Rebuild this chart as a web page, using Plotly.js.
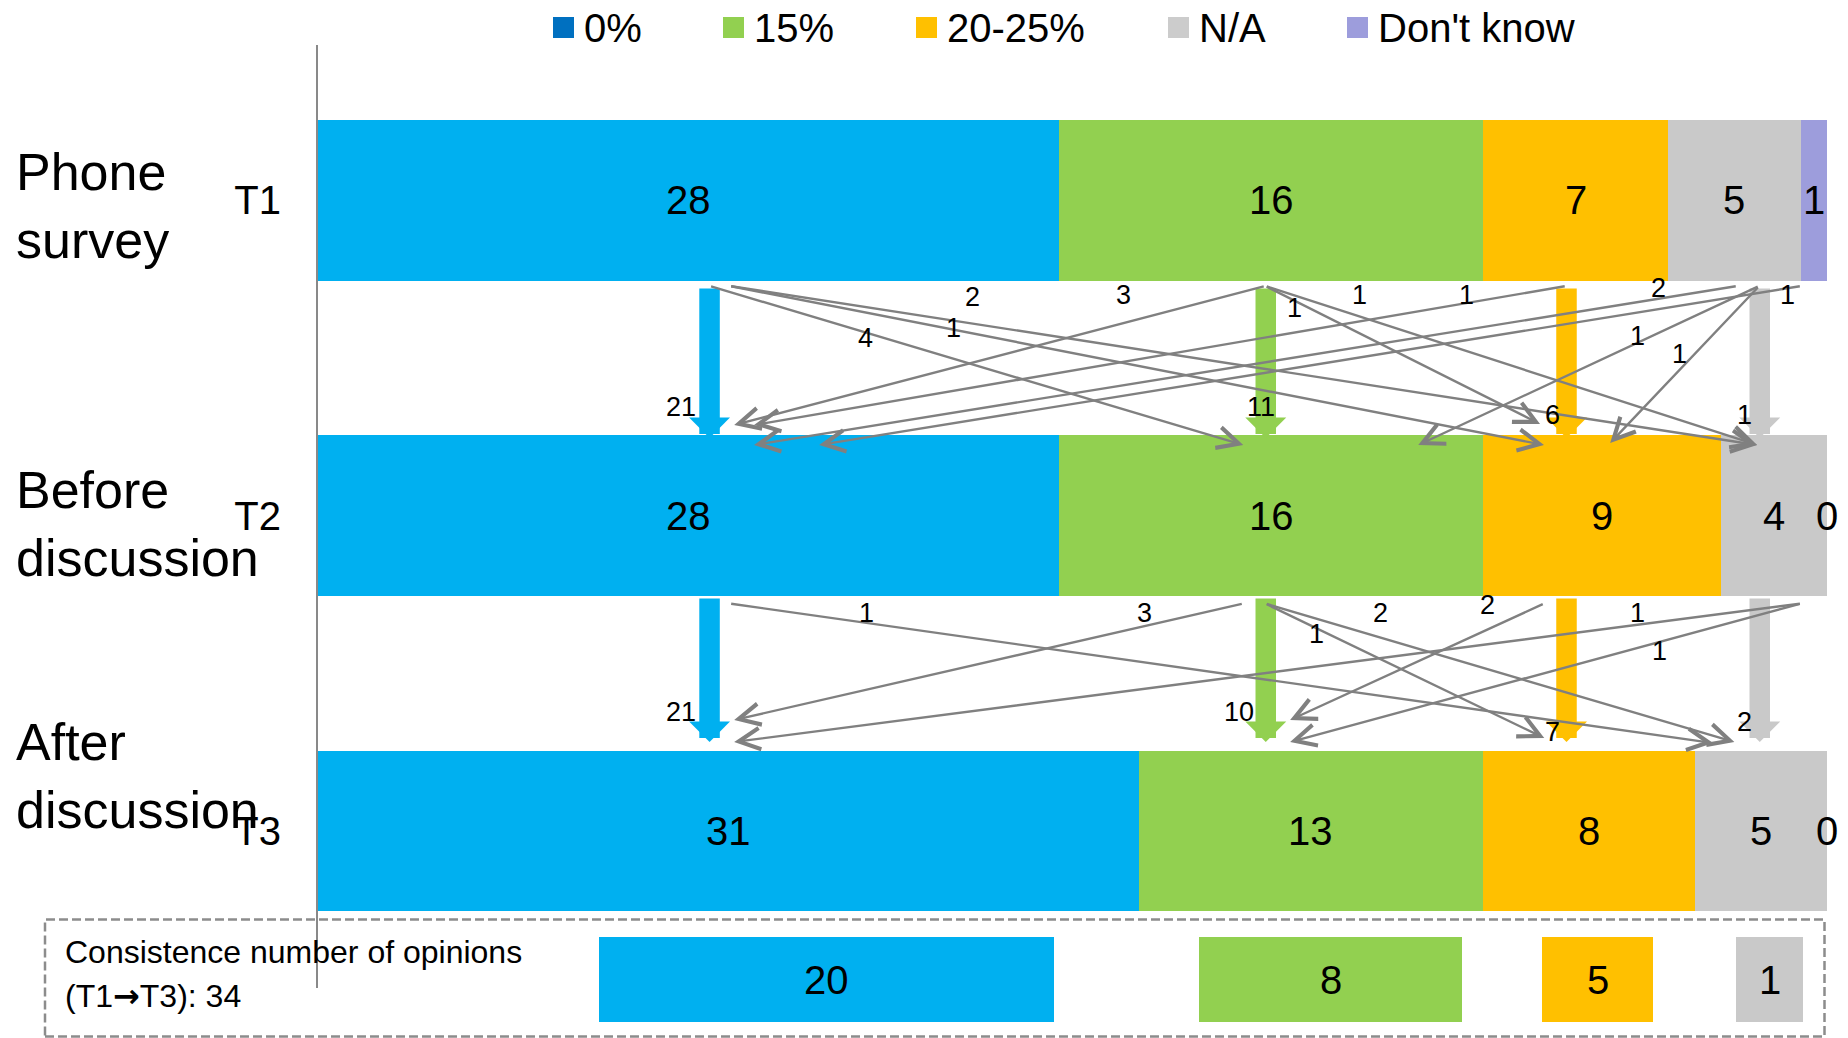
<!DOCTYPE html>
<html>
<head>
<meta charset="utf-8">
<script src="https://cdn.plot.ly/plotly-3.0.1.min.js"></script>
<style>
  html, body { margin: 0; padding: 0; background: #ffffff; }
  #chart { width: 1848px; height: 1038px; }
</style>
</head>
<body>
<div id="chart"></div>
<script>
// ---- Data ---------------------------------------------------------------
// Opinion categories, in stacking order (left to right)
const categories = ['0%', '15%', '20-25%', 'N/A', "Don't know"];
// Survey waves, top to bottom
const waves = ['T1', 'T2', 'T3'];
const waveNames = ['Phone<br>survey', 'Before<br>discussion', 'After<br>discussion'];

// Respondents per category at each wave
const countsT1 = [28, 16, 7, 5, 1];
const countsT2 = [28, 16, 9, 4, 0];
const countsT3 = [31, 13, 8, 5, 0];

// Respondents keeping the same answer between consecutive waves (0%, 15%, 20-25%, N/A)
const stayT1T2 = [21, 11, 6, 1];
const stayT2T3 = [21, 10, 7, 2];

// Respondents changing answer: [from, to, count]
const moveT1T2 = [
  ['0%', '15%', 4], ['0%', '20-25%', 1], ['0%', 'N/A', 2],
  ['15%', '0%', 3], ['15%', '20-25%', 1], ['15%', 'N/A', 1],
  ['20-25%', '0%', 1],
  ['N/A', '0%', 2], ['N/A', '15%', 1], ['N/A', '20-25%', 1],
  ["Don't know", '0%', 1]
];
const moveT2T3 = [
  ['0%', 'N/A', 1],
  ['15%', '0%', 3], ['15%', '20-25%', 1], ['15%', 'N/A', 2],
  ['20-25%', '15%', 2],
  ['N/A', '0%', 1], ['N/A', '15%', 1]
];

// Same answer at T1 and at T3
const consistentText = ['Consistence number of opinions', '(T1', 'T3): '];
const consistentTotal = 34;
const consistentCounts = [20, 8, 5, 1];

// ---- Styling / layout constants ----------------------------------------
const BAR_COLORS = ['#00B0F0', '#92D050', '#FFC000', '#C9C9C9', '#9D9DDC'];
const LEGEND_COLORS = ['#0070C0', '#92D050', '#FFC000', '#CCCCCC', '#9D9DDC'];
const FONT = 'Liberation Sans, Arial, Helvetica, sans-serif';
const W = 1848, H = 1038;
const M = { l: 318, r: 21, t: 45, b: 50 };
const PW = W - M.l - M.r, PH = H - M.t - M.b;
const px = p => (p - M.l) / PW;          // page pixel -> paper x
const py = p => (H - M.b - p) / PH;      // page pixel -> paper y

const yPos = [2, 1, 0];
const BAR_WIDTH = 0.509;
const ARROW_GREY = '#808080';

// horizontal anchor of the "unchanged" arrow of each category
const STAY_X = [14.79, 35.8, 47.16, 54.46];
// stay arrow: tail y, tip y; label positions
const STAY_GEOM = [
  { y0: 1.7253, y1: 1.2463, labels: [[13.71, 1.346], [35.63, 1.346], [46.62, 1.3196], [53.87, 1.3196]] },
  { y0: 0.742,  y1: 0.282,  labels: [[13.71, 0.3772], [34.79, 0.3772], [46.62, 0.3137], [53.87, 0.3439]] }
];
// change arrows: [tail x, tip x, tip y, label x, label y]
const MOVE_TAIL_Y = [1.7285, 0.7213];
const MOVE_GEOM = [
  [
    [14.79, 34.95, 1.224, 20.69, 1.5635],
    [15.55, 46.31, 1.224, 23.99, 1.595],
    [15.55, 54.36, 1.224, 24.74, 1.6936],
    [35.78, 15.72, 1.2875, 30.41, 1.701],
    [35.78, 46.16, 1.2907, 36.87, 1.6587],
    [35.78, 54.36, 1.224, 39.33, 1.701],
    [47.15, 16.47, 1.2875, 43.37, 1.701],
    [53.61, 16.47, 1.224, 50.62, 1.7234],
    [54.44, 41.56, 1.224, 49.83, 1.570],
    [54.44, 48.81, 1.2304, 51.42, 1.514],
    [56.03, 18.93, 1.224, 55.49, 1.701]
  ],
  [
    [15.55, 52.70, 0.2788, 20.70, 0.6912],
    [34.95, 15.72, 0.3518, 31.21, 0.6912],
    [35.78, 46.32, 0.2946, 37.72, 0.6246],
    [35.78, 53.50, 0.282, 40.12, 0.6912],
    [46.32, 36.72, 0.3518, 44.16, 0.7178],
    [56.03, 15.72, 0.282, 49.83, 0.6912],
    [56.03, 36.72, 0.282, 50.68, 0.5719]
  ]
];

// ---- Bars ---------------------------------------------------------------
const counts = [countsT1, countsT2, countsT3];
const total = countsT1.reduce((a, b) => a + b, 0);

const traces = categories.map((c, i) => ({
  type: 'bar',
  orientation: 'h',
  name: c,
  y: yPos,
  x: counts.map(row => row[i]),
  width: BAR_WIDTH,
  marker: { color: BAR_COLORS[i], line: { width: 0 } },
  hoverinfo: 'skip',
  showlegend: false
}));

const annotations = [];
const shapes = [];

function txt(x, y, text, size, extra) {
  return Object.assign({
    x, y, xref: 'x', yref: 'y', text: String(text), showarrow: false,
    font: { family: FONT, size, color: '#000000' }, xanchor: 'center', yanchor: 'middle'
  }, extra || {});
}
function arrow(x, y, ax, ay, color, width, head, size) {
  return {
    x, y, ax, ay, xref: 'x', yref: 'y', axref: 'x', ayref: 'y', text: '',
    showarrow: true, arrowhead: head, arrowsize: size, arrowwidth: width,
    arrowcolor: color, standoff: 0, startstandoff: 0
  };
}

// value labels centred in each segment
counts.forEach((row, w) => {
  let cum = 0;
  row.forEach(v => {
    annotations.push(txt(cum + v / 2, yPos[w], v, 40));
    cum += v;
  });
});

// thick arrows: unchanged answers
[stayT1T2, stayT2T3].forEach((stay, k) => {
  const g = STAY_GEOM[k];
  stay.forEach((n, i) => {
    annotations.push(arrow(STAY_X[i], g.y1, STAY_X[i], g.y0, BAR_COLORS[i], 20.5, 1, 0.333));
  });
});

// thin arrows: changed answers
[moveT1T2, moveT2T3].forEach((moves, k) => {
  moves.forEach((m, j) => {
    const g = MOVE_GEOM[k][j];
    annotations.push(arrow(g[1], g[2], g[0], MOVE_TAIL_Y[k], ARROW_GREY, 2.4, 5, 1.75));
  });
});

// labels for the arrows
[stayT1T2, stayT2T3].forEach((stay, k) => {
  stay.forEach((n, i) => {
    const p = STAY_GEOM[k].labels[i];
    annotations.push(txt(p[0], p[1], n, 27));
  });
});
[moveT1T2, moveT2T3].forEach((moves, k) => {
  moves.forEach((m, j) => {
    const g = MOVE_GEOM[k][j];
    annotations.push(txt(g[3], g[4], m[2], 27));
  });
});

// wave names on the left
const NAME_SHIFT = [-6, -8, 55];
waveNames.forEach((name, w) => {
  annotations.push({
    x: px(14), y: yPos[w], xref: 'paper', yref: 'y', text: name, showarrow: false,
    xanchor: 'left', yanchor: 'middle', align: 'left', yshift: NAME_SHIFT[w],
    font: { family: FONT, size: 52, color: '#000000' }
  });
});

// legend along the top
const LEG_X = [553, 723, 916, 1168, 1347];
categories.forEach((c, i) => {
  shapes.push({
    type: 'rect', xref: 'paper', yref: 'paper',
    x0: px(LEG_X[i]), x1: px(LEG_X[i] + 21), y0: py(38), y1: py(17),
    fillcolor: LEGEND_COLORS[i], line: { width: 0 }
  });
  annotations.push({
    x: px(LEG_X[i] + 29), y: py(27.5), xref: 'paper', yref: 'paper', text: c,
    showarrow: false, xanchor: 'left', yanchor: 'middle',
    font: { family: FONT, size: 40, color: '#000000' }
  });
});

// consistency box at the bottom
shapes.push({
  type: 'rect', xref: 'paper', yref: 'paper',
  x0: px(45), x1: px(1824.5), y0: py(1036.5), y1: py(919.5),
  fillcolor: 'rgba(0,0,0,0)', line: { color: '#8C8C8C', width: 2.5, dash: '9px,4px' }
});
annotations.push({
  x: px(63), y: py(952), xref: 'paper', yref: 'paper', text: consistentText[0],
  showarrow: false, xanchor: 'left', yanchor: 'middle',
  font: { family: FONT, size: 32, color: '#000000' }
});
annotations.push({
  x: px(63), y: py(996), xref: 'paper', yref: 'paper',
  text: consistentText[1] + '<span style="font-family:DejaVu Sans;font-weight:bold">\u2192</span>' +
        consistentText[2] + consistentTotal,
  showarrow: false, xanchor: 'left', yanchor: 'middle',
  font: { family: FONT, size: 32, color: '#000000' }
});
const BOX_X = [[599, 1054], [1199, 1462], [1542, 1653], [1736, 1803]];
consistentCounts.forEach((n, i) => {
  const [a, b] = BOX_X[i];
  shapes.push({
    type: 'rect', xref: 'paper', yref: 'paper',
    x0: px(a), x1: px(b), y0: py(1022), y1: py(937),
    fillcolor: BAR_COLORS[i], line: { width: 0 }
  });
  annotations.push({
    x: px((a + b) / 2), y: py(980), xref: 'paper', yref: 'paper', text: String(n),
    showarrow: false, xanchor: 'center', yanchor: 'middle',
    font: { family: FONT, size: 40, color: '#000000' }
  });
});

const layout = {
  width: W, height: H,
  margin: M,
  paper_bgcolor: '#ffffff', plot_bgcolor: 'rgba(0,0,0,0)',
  barmode: 'stack',
  bargap: 0,
  showlegend: false,
  font: { family: FONT, color: '#000000' },
  xaxis: { range: [0, total], visible: false, fixedrange: true },
  yaxis: {
    range: [-0.4983, 2.4929],
    tickvals: yPos, ticktext: waves,
    tickfont: { family: FONT, size: 40, color: '#000000' },
    ticks: 'outside', ticklen: 27, tickcolor: 'rgba(0,0,0,0)',
    showline: true, linecolor: '#898989', linewidth: 2,
    showgrid: false, zeroline: false, fixedrange: true
  },
  shapes, annotations
};

Plotly.newPlot('chart', traces, layout, { staticPlot: true, displayModeBar: false });
</script>
</body>
</html>
